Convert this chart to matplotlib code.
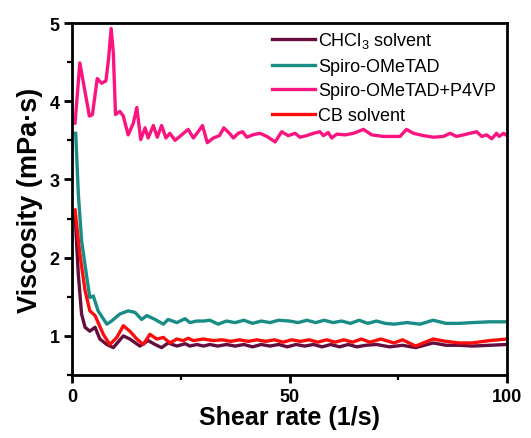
import matplotlib
matplotlib.use("Agg")
import matplotlib.pyplot as plt
from matplotlib.ticker import MultipleLocator

plt.rcParams['font.family'] = ['Liberation Sans', 'DejaVu Sans']
plt.rcParams['mathtext.fontset'] = 'custom'
plt.rcParams['mathtext.rm'] = 'Liberation Sans'
plt.rcParams['mathtext.it'] = 'Liberation Sans'

# shear rate (1/s) and viscosity (mPa·s) for each solution
x_chcl3 = [0.7, 1.45, 2.2, 3.0, 4.1, 5.3, 6.4, 8.0, 9.5, 11.8, 13.3, 15.6, 17.5, 19.1, 20.6,
           22.1, 24.1, 26.0, 27.1, 28.7, 30.2, 31.7, 33.5, 35.5, 37.5, 39.5, 41.5, 43.5, 45.5,
           47.5, 49.5, 51.5, 53.5, 55.5, 57.5, 59.5, 61.5, 63.5, 65.5, 67.5, 70, 73, 76, 79,
           83, 86, 89, 92, 96, 100]
y_chcl3 = [2.55, 1.79, 1.28, 1.11, 1.06, 1.11, 0.96, 0.89, 0.85, 1.00, 0.96, 0.87, 0.94, 0.89,
           0.85, 0.91, 0.87, 0.90, 0.87, 0.89, 0.87, 0.89, 0.87, 0.89, 0.87, 0.89, 0.86, 0.89,
           0.87, 0.89, 0.86, 0.89, 0.87, 0.89, 0.86, 0.89, 0.86, 0.89, 0.86, 0.88, 0.89, 0.86,
           0.88, 0.85, 0.91, 0.88, 0.88, 0.87, 0.88, 0.89]

x_spiro = [0.85, 1.45, 2.2, 3.4, 4.1, 4.9, 6.0, 8.0, 9.1, 11.0, 12.9, 14.5, 16.0, 17.2, 19.1,
           21.0, 22.1, 24.1, 26.0, 27.1, 28.7, 30.2, 31.7, 33.6, 35.5, 37.5, 39.5, 41.5, 43.5,
           45.5, 47.5, 50, 52, 54, 56, 58, 60, 62, 64, 66, 68, 70, 72, 74, 77, 80, 83, 86, 89,
           92, 96, 100]
y_spiro = [3.59, 2.82, 2.22, 1.75, 1.49, 1.51, 1.32, 1.15, 1.19, 1.28, 1.32, 1.30, 1.21, 1.26,
           1.21, 1.15, 1.21, 1.17, 1.22, 1.17, 1.19, 1.19, 1.20, 1.15, 1.19, 1.17, 1.20, 1.16,
           1.19, 1.17, 1.20, 1.19, 1.17, 1.20, 1.17, 1.20, 1.17, 1.19, 1.16, 1.20, 1.16, 1.19,
           1.16, 1.15, 1.17, 1.15, 1.20, 1.16, 1.16, 1.17, 1.18, 1.18]

x_p4vp = [0.7, 1.8, 4.0, 4.7, 5.8, 6.8, 7.8, 8.4, 9.0, 9.5, 10.0, 11.0, 11.8, 12.9, 14.1,
          14.9, 15.8, 16.8, 17.5, 18.7, 19.6, 20.6, 21.6, 22.5, 23.7, 25.2, 26.7, 27.9, 29.0,
          30.0, 31.1, 32.5, 33.9, 34.9, 36.2, 37.1, 38.2, 39.2, 40.2, 41.5, 43.2, 44.8, 46.7,
          48.2, 49.7, 51.3, 52.4, 53.9, 55.5, 57.0, 57.8, 58.9, 59.7, 60.9, 62.8, 64.7, 67.0,
          68.9, 71.6, 73.9, 75.4, 76.9, 78.5, 80.8, 83.1, 85.4, 86.9, 88.4, 90.0, 91.5, 93.0,
          94.2, 95.3, 96.5, 97.6, 98.2, 99.2, 100]
y_p4vp = [3.72, 4.49, 3.81, 3.83, 4.29, 4.23, 4.26, 4.54, 4.93, 4.62, 3.83, 3.87, 3.81, 3.57,
          3.72, 3.92, 3.51, 3.66, 3.53, 3.69, 3.54, 3.69, 3.53, 3.59, 3.50, 3.57, 3.64, 3.53,
          3.61, 3.69, 3.47, 3.53, 3.56, 3.66, 3.59, 3.53, 3.59, 3.61, 3.54, 3.57, 3.59, 3.55,
          3.48, 3.61, 3.56, 3.59, 3.54, 3.56, 3.59, 3.61, 3.56, 3.60, 3.53, 3.58, 3.57, 3.59,
          3.64, 3.57, 3.55, 3.55, 3.55, 3.64, 3.59, 3.56, 3.54, 3.55, 3.59, 3.55, 3.57, 3.59,
          3.61, 3.55, 3.57, 3.52, 3.59, 3.55, 3.59, 3.56]

x_cb = [0.7, 1.8, 3.0, 4.1, 5.3, 7.2, 8.7, 10.3, 11.8, 13.3, 14.9, 16.4, 17.9, 19.5, 21.0,
        22.5, 24.1, 25.6, 26.7, 27.9, 30.2, 32.5, 34.5, 36.5, 38.5, 40.5, 42.5, 44.5, 46.5,
        48.5, 50.5, 52.5, 54.5, 56.5, 58.5, 60.5, 62.5, 64.5, 66.5, 68.5, 71, 74, 76, 79, 83,
        86, 89, 92, 96, 100]
y_cb = [2.61, 2.05, 1.58, 1.32, 1.26, 1.02, 0.89, 0.98, 1.13, 1.06, 0.96, 0.89, 1.02, 0.96,
        0.98, 0.91, 0.96, 0.94, 0.97, 0.94, 0.96, 0.94, 0.95, 0.93, 0.95, 0.93, 0.95, 0.93,
        0.95, 0.92, 0.95, 0.93, 0.95, 0.92, 0.95, 0.92, 0.95, 0.92, 0.96, 0.92, 0.96, 0.91,
        0.95, 0.87, 0.96, 0.93, 0.91, 0.91, 0.94, 0.96]

fig = plt.figure(figsize=(5.31, 4.39), dpi=100)
ax = fig.add_axes([0.1356, 0.1435, 0.8192, 0.8018])

lw = 2.4
ax.plot(x_chcl3, y_chcl3, color='#650d3d', lw=lw, label=r'CHCl$_3$ solvent')
ax.plot(x_spiro, y_spiro, color='#1a8c86', lw=lw, label='Spiro-OMeTAD')
ax.plot(x_p4vp, y_p4vp, color='#fa1480', lw=lw, label='Spiro-OMeTAD+P4VP')
ax.plot(x_cb, y_cb, color='#fa0d0d', lw=lw, label='CB solvent')

ax.set_xlim(0, 100)
ax.set_ylim(0.5, 5)
ax.xaxis.set_major_locator(MultipleLocator(50))
ax.xaxis.set_minor_locator(MultipleLocator(25))
ax.yaxis.set_major_locator(MultipleLocator(1))
ax.yaxis.set_minor_locator(MultipleLocator(0.5))
ax.tick_params(which='major', direction='out', length=6, width=2, labelsize=13, pad=3)
ax.tick_params(which='minor', direction='out', length=3.5, width=1.6)
for lab in ax.get_xticklabels() + ax.get_yticklabels():
    lab.set_fontweight('bold')
for sp in ax.spines.values():
    sp.set_linewidth(2)

ax.set_xlabel('Shear rate (1/s)', fontsize=18, fontweight='bold', labelpad=0)
ax.set_ylabel('Viscosity (mPa·s)', fontsize=19.5, fontweight='bold', labelpad=5)

ax.legend(loc='upper right', frameon=False, fontsize=13, handlelength=2.4,
          handletextpad=0.15, labelspacing=0.42, borderaxespad=0.2,
          bbox_to_anchor=(1.0, 1.01))

fig.savefig('out.png', dpi=100)
